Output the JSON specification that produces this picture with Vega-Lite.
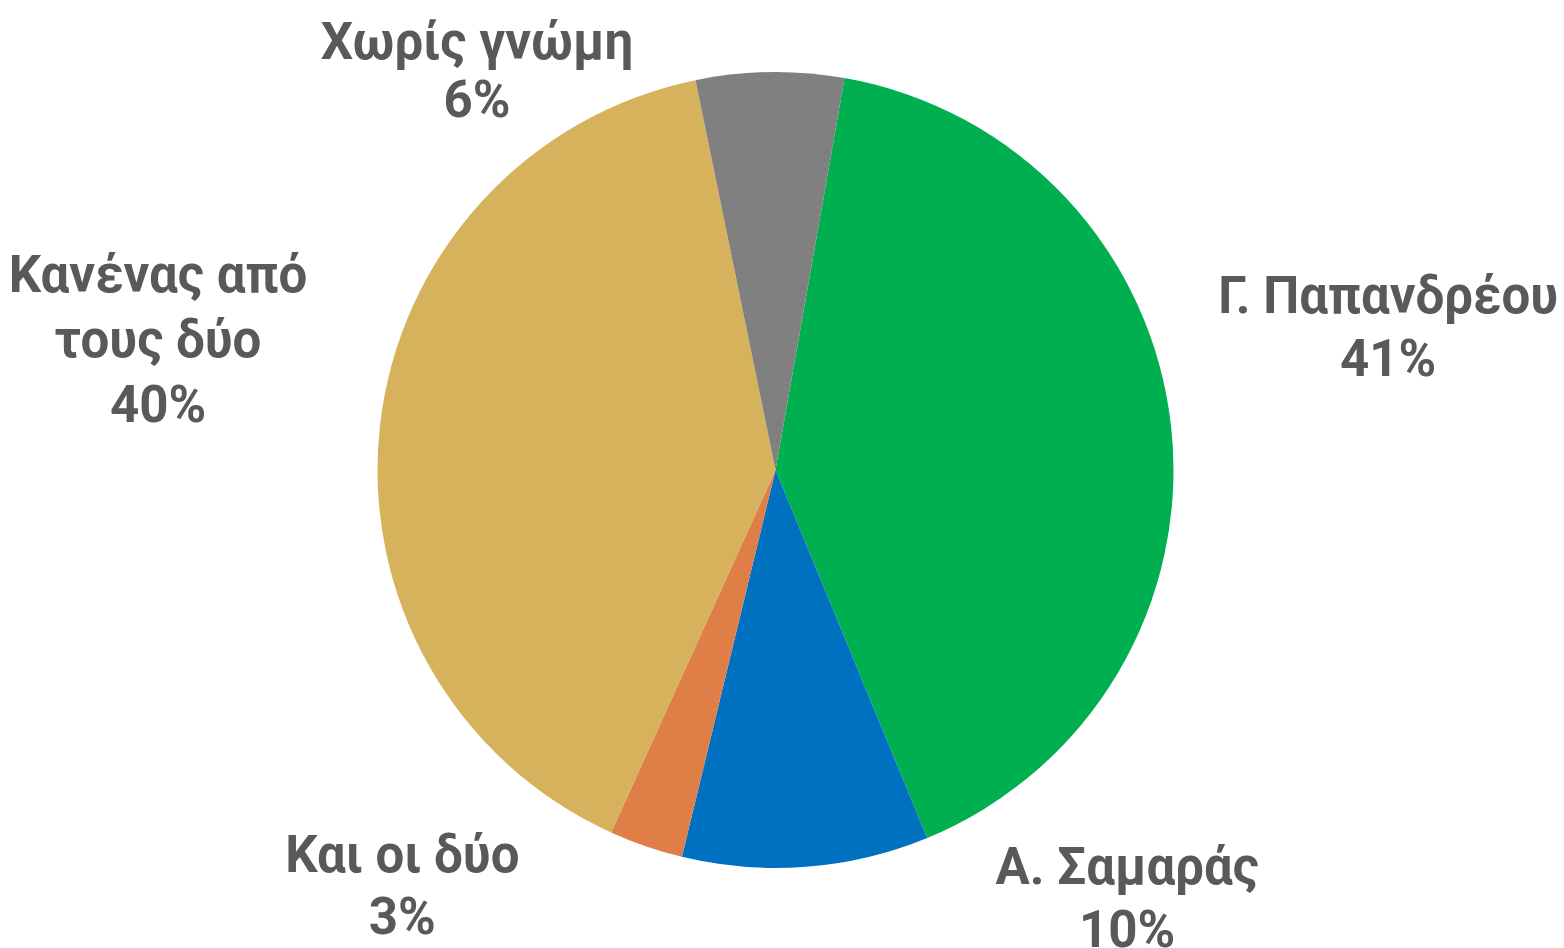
{
  "$schema": "https://vega.github.io/schema/vega-lite/v6.json",
  "autosize": "none",
  "width": 1551,
  "height": 940,
  "padding": {"left": 0, "top": 0, "right": 13, "bottom": 8},
  "background": "white",
  "config": {"view": {"stroke": null}},
  "data": {
    "values": [
      {"idx": 1, "name": "Γ. Παπανδρέου", "value": 41, "label": "Γ. Παπανδρέου\n41%"},
      {"idx": 2, "name": "Α. Σαμαράς", "value": 10, "label": "Α. Σαμαράς\n10%"},
      {"idx": 3, "name": "Και οι δύο", "value": 3, "label": "Και οι δύο\n3%"},
      {"idx": 4, "name": "Κανένας από τους δύο", "value": 40, "label": "Κανένας από\nτους δύο\n40%"},
      {"idx": 5, "name": "Χωρίς γνώμη", "value": 6, "label": "Χωρίς γνώμη\n6%"}
    ]
  },
  "encoding": {
    "theta": {"field": "value", "type": "quantitative", "stack": true, "scale": {"range": [0.17453, 6.45772]}},
    "order": {"field": "idx", "type": "quantitative", "sort": "ascending"}
  },
  "layer": [
    {
      "mark": {"type": "arc", "outerRadius": 398},
      "encoding": {
        "color": {
          "field": "name",
          "type": "nominal",
          "legend": null,
          "scale": {
            "domain": ["Γ. Παπανδρέου", "Α. Σαμαράς", "Και οι δύο", "Κανένας από τους δύο", "Χωρίς γνώμη"],
            "range": ["#00B050", "#0070C0", "#DF7F47", "#D7B25D", "#808080"]
          }
        }
      }
    },
    {
      "mark": {"type": "text", "radius": 400, "dx": 215, "dy": -114, "align": "center", "baseline": "alphabetic", "lineBreak": "\n", "lineHeight": 63, "font": "Roboto", "fontWeight": "bold", "fontSize": 51, "fill": "#595959"},
      "encoding": {"text": {"condition": {"test": "datum.idx === 1", "field": "label"}, "value": ""}}
    },
    {
      "mark": {"type": "text", "radius": 400, "dx": 321, "dy": 15, "align": "center", "baseline": "alphabetic", "lineBreak": "\n", "lineHeight": 63, "font": "Roboto", "fontWeight": "bold", "fontSize": 51, "fill": "#595959"},
      "encoding": {"text": {"condition": {"test": "datum.idx === 2", "field": "label"}, "value": ""}}
    },
    {
      "mark": {"type": "text", "radius": 400, "dx": -243, "dy": 24, "align": "center", "baseline": "alphabetic", "lineBreak": "\n", "lineHeight": 62, "font": "Roboto", "fontWeight": "bold", "fontSize": 51, "fill": "#595959"},
      "encoding": {"text": {"condition": {"test": "datum.idx === 3", "field": "label"}, "value": ""}}
    },
    {
      "mark": {"type": "text", "radius": 400, "dx": -220, "dy": -133, "align": "center", "baseline": "alphabetic", "lineBreak": "\n", "lineHeight": 65, "font": "Roboto", "fontWeight": "bold", "fontSize": 51, "fill": "#595959"},
      "encoding": {"text": {"condition": {"test": "datum.idx === 4", "field": "label"}, "value": ""}}
    },
    {
      "mark": {"type": "text", "radius": 400, "dx": -293, "dy": -11, "align": "center", "baseline": "alphabetic", "lineBreak": "\n", "lineHeight": 58, "font": "Roboto", "fontWeight": "bold", "fontSize": 51, "fill": "#595959"},
      "encoding": {"text": {"condition": {"test": "datum.idx === 5", "field": "label"}, "value": ""}}
    }
  ]
}
